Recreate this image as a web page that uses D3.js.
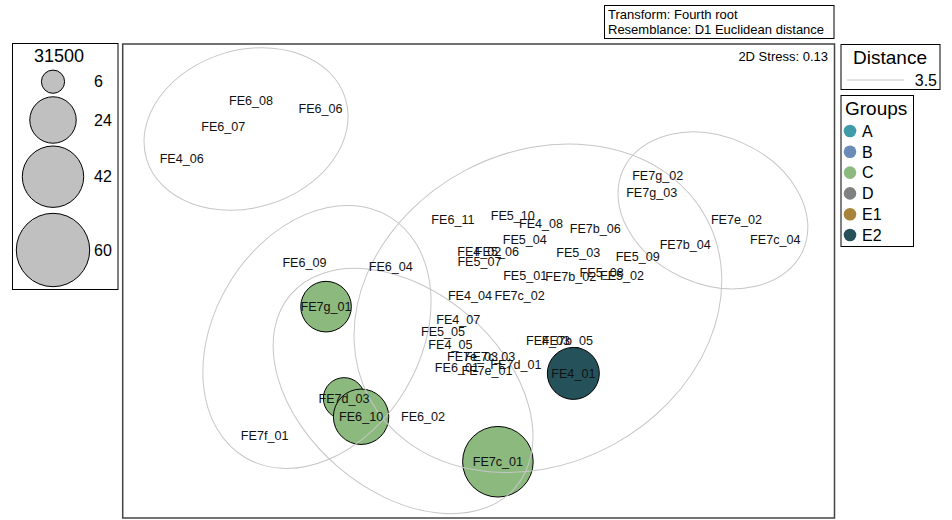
<!DOCTYPE html>
<html><head><meta charset="utf-8">
<script src="https://cdn.jsdelivr.net/npm/d3@7"></script>
<style>body{margin:0;background:#fff}svg{display:block}text{font-family:"Liberation Sans",Arial,sans-serif}</style>
</head><body><svg id="c" width="952" height="520"></svg>
<script>
const samples = ["FE6_08","FE6_06","FE6_07","FE4_06","FE6_09","FE6_04","FE7g_01","FE7d_03","FE6_10","FE6_02","FE7f_01",
"FE6_11","FE5_10","FE4_08","FE7b_06","FE7g_02","FE7g_03","FE7e_02","FE7c_04","FE7b_04","FE5_09","FE5_04","FE5_03",
"FE4_02","FE5_06","FE5_07","FE5_01","FE7b_02","FE5_08","FE5_02","FE4_04","FE7c_02","FE4_07","FE5_05","FE4_05",
"FE7e_03","FE7c_03","FE6_01","FE7e_01","FE7d_01","FE4_03","FE7b_05","FE4_01","FE7c_01"];
const mds1 = [-1.154,-0.803,-1.294,-1.504,-0.884,-0.448,-0.775,-0.684,-0.598,-0.285,-1.085,
-0.134,0.168,0.311,0.585,0.900,0.870,1.298,1.494,1.039,0.799,0.229,0.499,
-0.001,0.088,0.000,0.231,0.461,0.617,0.720,-0.048,0.203,-0.107,-0.184,-0.147,
-0.035,0.053,-0.114,0.038,0.184,0.346,0.444,0.474,0.093];
const mds2 = [0.912,0.875,0.782,0.622,0.097,0.075,-0.127,-0.590,-0.683,-0.683,-0.775,
0.311,0.334,0.292,0.269,0.534,0.448,0.314,0.213,0.186,0.127,0.213,0.145,
0.151,0.151,0.100,0.031,0.024,0.044,0.031,-0.073,-0.070,-0.191,-0.250,-0.317,
-0.376,-0.376,-0.433,-0.447,-0.418,-0.299,-0.299,-0.464,-0.910];
// bubble variable "31500" (0 = no bubble)
const abundance = [0,0,0,0,0,0,28.5,19.1,34.2,0,0,
0,0,0,0,0,0,0,0,0,0,0,0,
0,0,0,0,0,0,0,0,0,0,0,0,
0,0,0,0,0,0,0,30.1,55.5];
const sampleGroup = ["","","","","","","C","C","C","","",
"","","","","","","","","","","","",
"","","","","","","","","","","","",
"","","","","","","","E2","C"];
const groupNames = ["A","B","C","D","E1","E2"];
const groupColors = ["#3f9ba7","#6a8bb8","#8cb97e","#808080","#a8833a","#25525a"];
const sizeLegendVals = [6,24,42,60];
// cluster ellipses at distance 3.5: centre (MDS1, MDS2), semi-axes, rotation (deg)
const ellCx = [-1.179,0.295,1.179,-0.821,-0.386];
const ellCy = [0.770,-0.135,0.359,-0.280,-0.553];
const ellA  = [0.525,0.965,0.498,0.709,0.748];
const ellB  = [0.398,0.787,0.372,0.520,0.505];
const ellRot= [-17,-28,24,-59,40.6];

const svg = d3.select("#c");
const L = 122.7, R = 834.5, T = 44, B = 518;
const x = d3.scaleLinear().domain([-1.802,1.793]).range([L,R]);
const y = d3.scaleLinear().domain([-1.194,1.199]).range([B,T]);
const unit = x(1)-x(0);
const r = d3.scaleSqrt().domain([0,60]).range([0,36.7]);
const gColor = d3.scaleOrdinal().domain(groupNames).range(groupColors);

// top info box
svg.append("rect").attr("x",604.5).attr("y",5.5).attr("width",229.5).attr("height",33).attr("fill","#fff").attr("stroke","#000");
svg.append("text").attr("x",608).attr("y",18.5).attr("font-size",13).text("Transform: Fourth root");
svg.append("text").attr("x",608).attr("y",34).attr("font-size",13).text("Resemblance: D1 Euclidean distance");

// plot frame
svg.append("defs").append("clipPath").attr("id","pc").append("rect").attr("x",L).attr("y",T).attr("width",R-L).attr("height",B-T);
const data = samples.map((s,i)=>({s,x:mds1[i],y:mds2[i],v:abundance[i],g:sampleGroup[i]}));
const plot = svg.append("g").attr("clip-path","url(#pc)");
plot.selectAll("circle.b").data(data.filter(d=>d.v>0)).join("circle").attr("class","b")
  .attr("cx",d=>x(d.x)).attr("cy",d=>y(d.y)).attr("r",d=>r(d.v))
  .attr("fill",d=>gColor(d.g)).attr("stroke","#000").attr("stroke-width",1);
plot.selectAll("ellipse").data(ellCx.map((c,i)=>i)).join("ellipse")
  .attr("transform",i=>`translate(${x(ellCx[i])},${y(ellCy[i])}) rotate(${ellRot[i]})`)
  .attr("rx",i=>ellA[i]*unit).attr("ry",i=>ellB[i]*unit)
  .attr("fill","none").attr("stroke","#c6c6c6").attr("stroke-width",1);
plot.selectAll("text.lab").data(data).join("text").attr("class","lab")
  .attr("x",d=>x(d.x)).attr("y",d=>y(d.y)).attr("dy","0.36em")
  .attr("text-anchor","middle").attr("font-size",12.6).attr("fill","#111").text(d=>d.s);
svg.append("rect").attr("x",L).attr("y",T).attr("width",R-L).attr("height",B-T).attr("fill","none").attr("stroke","#444").attr("stroke-width",1.5);
svg.append("text").attr("x",828).attr("y",60.5).attr("text-anchor","end").attr("font-size",13).text("2D Stress: 0.13");

// size legend
svg.append("rect").attr("x",12.5).attr("y",43.5).attr("width",105.5).attr("height",246).attr("fill","#fff").attr("stroke","#000");
svg.append("text").attr("x",59).attr("y",62).attr("text-anchor","middle").attr("font-size",18).text("31500");
const sCy = [81.7,120,176.7,250];
const sl = svg.append("g");
sl.selectAll("circle").data(sizeLegendVals).join("circle")
  .attr("cx",53).attr("cy",(d,i)=>sCy[i]).attr("r",d=>r(d)).attr("fill","#c0c0c0").attr("stroke","#000");
sl.selectAll("text").data(sizeLegendVals).join("text")
  .attr("x",94).attr("y",(d,i)=>sCy[i]).attr("dy","0.36em").attr("font-size",16).text(d=>d);

// distance legend
svg.append("rect").attr("x",841).attr("y",44.5).attr("width",99).attr("height",45).attr("fill","#fff").attr("stroke","#000");
svg.append("text").attr("x",890).attr("y",63.5).attr("text-anchor","middle").attr("font-size",19).text("Distance");
svg.append("line").attr("x1",847).attr("x2",904).attr("y1",80).attr("y2",80).attr("stroke","#c6c6c6");
svg.append("text").attr("x",937).attr("y",80).attr("dy","0.36em").attr("text-anchor","end").attr("font-size",16).text("3.5");

// groups legend
svg.append("rect").attr("x",841).attr("y",95.5).attr("width",72.5).attr("height",151).attr("fill","#fff").attr("stroke","#000");
svg.append("text").attr("x",845).attr("y",114.5).attr("font-size",19).text("Groups");
const gl = svg.append("g");
gl.selectAll("circle").data(groupNames).join("circle")
  .attr("cx",850).attr("cy",(d,i)=>131+i*20.8).attr("r",6.3).attr("fill",d=>gColor(d));
gl.selectAll("text").data(groupNames).join("text")
  .attr("x",862).attr("y",(d,i)=>131+i*20.8).attr("dy","0.36em").attr("font-size",16).text(d=>d);
</script></body></html>
